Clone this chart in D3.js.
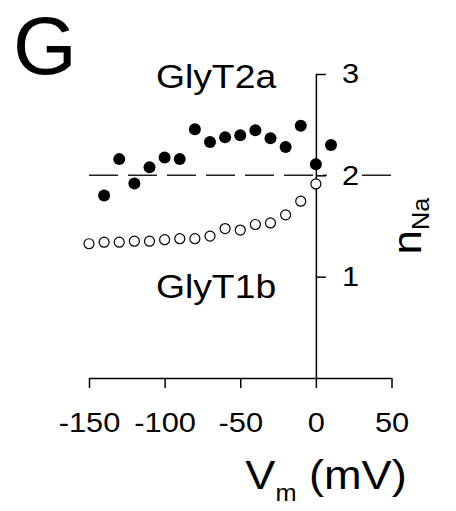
<!DOCTYPE html>
<html lang="en">
<head>
<meta charset="UTF-8">
<script src="https://cdn.jsdelivr.net/npm/d3@7"></script>
<title>nNa vs Vm</title>
<style>
  body { margin: 0; background: white; }
  text { font-family: "Liberation Sans", Arial, sans-serif; fill: black; }
</style>
</head>
<body>
<div id="chart"></div>
<script>
// GlyT2a (filled) and GlyT1b (open)
var glyt2aV = [-140, -130, -120, -110, -100, -90, -80, -70, -60, -50, -40, -30, -20, -10, 0, 10];
var glyt2aN = [1.80, 2.16, 1.92, 2.08, 2.175, 2.16, 2.455, 2.33, 2.375, 2.395, 2.445, 2.365, 2.28, 2.49, 2.11, 2.30];
var glyt1bV = [-150, -140, -130, -120, -110, -100, -90, -80, -70, -60, -50, -40, -30, -20, -10, 0];
var glyt1bN = [1.325, 1.34, 1.34, 1.35, 1.35, 1.365, 1.375, 1.375, 1.40, 1.475, 1.46, 1.515, 1.53, 1.61, 1.745, 1.915];
var xTicks = [-150, -100, -50, 0, 50];
var yTicks = [1, 2, 3];
var refLevel = 2;

var W = 456, H = 511;
var svg = d3.select("#chart").append("svg")
    .attr("width", W)
    .attr("height", H);

var x = d3.scaleLinear().domain([-150, 50]).range([89, 391.5]);
var y = d3.scaleLinear().domain([0, 3]).range([378, 74]);

// plain hyphen minus, as in the figure
var fmt = function(d) { return String(d); };

// stretch text a little wider, like the original lettering
function widen(sel, k) {
    sel.each(function() {
        var w = this.getComputedTextLength();
        d3.select(this).attr("textLength", w * k).attr("lengthAdjust", "spacingAndGlyphs");
    });
}

// dashed reference line at nNa = 2
svg.append("line")
    .attr("x1", x(-150)).attr("x2", x(50))
    .attr("y1", y(refLevel)).attr("y2", y(refLevel))
    .attr("stroke", "#222")
    .attr("stroke-width", 1.5)
    .attr("stroke-dasharray", "29,10");

// x axis
var gx = svg.append("g")
    .attr("transform", "translate(0," + y(0) + ")")
    .call(d3.axisBottom(x).tickValues(xTicks).tickSize(10).tickSizeOuter(0).tickPadding(24).tickFormat(fmt));
gx.attr("font-family", null);
gx.selectAll("path, line").attr("stroke", "black").attr("stroke-width", 1.5);
gx.selectAll("text").attr("font-size", 28).call(widen, 1.1);

// y axis at Vm = 0, labels on the right
var gy = svg.append("g")
    .attr("transform", "translate(" + x(0) + ",0)")
    .call(d3.axisRight(y).tickValues(yTicks).tickSize(10).tickSizeOuter(0).tickPadding(16).tickFormat(fmt));
gy.attr("font-family", null);
gy.selectAll("path, line").attr("stroke", "black").attr("stroke-width", 1.5);
gy.selectAll("text").attr("font-size", 28).call(widen, 1.1);
gy.selectAll(".tick").each(function() {
    var t = d3.select(this).select("text");
    var b = t.node().getBBox();
    d3.select(this).insert("rect", "text")
        .attr("x", 11).attr("y", b.y)
        .attr("width", b.x + b.width + 2 - 11).attr("height", b.height)
        .attr("fill", "white");
});

// GlyT1b open circles
svg.append("g").selectAll("circle")
    .data(glyt1bV)
    .join("circle")
    .attr("cx", function(d) { return x(d); })
    .attr("cy", function(d, i) { return y(glyt1bN[i]); })
    .attr("r", 5)
    .attr("fill", "white")
    .attr("stroke", "black")
    .attr("stroke-width", 1.2);

// GlyT2a filled circles
svg.append("g").selectAll("circle")
    .data(glyt2aV)
    .join("circle")
    .attr("cx", function(d) { return x(d); })
    .attr("cy", function(d, i) { return y(glyt2aN[i]); })
    .attr("r", 6)
    .attr("fill", "black");

// series labels
svg.append("text")
    .attr("x", x(-66)).attr("y", y(2.86))
    .attr("text-anchor", "middle")
    .attr("font-size", 33)
    .text("GlyT2a")
    .call(widen, 1.13);
svg.append("text")
    .attr("x", x(-66)).attr("y", y(0.79))
    .attr("text-anchor", "middle")
    .attr("font-size", 33)
    .text("GlyT1b")
    .call(widen, 1.13);

// panel letter
svg.append("text")
    .attr("x", 13).attr("y", 74)
    .attr("font-size", 82)
    .text("G");

// x title: Vm (mV)
var xt = svg.append("g")
    .attr("transform", "translate(326,489) scale(1.1,1)")
    .append("text")
    .attr("text-anchor", "middle")
    .attr("font-size", 41);
xt.append("tspan").text("V");
xt.append("tspan").attr("font-size", 23).attr("dy", 12).text("m");
xt.append("tspan").attr("dy", -12).text(" (mV)");

// y title: nNa
var yt = svg.append("g")
    .attr("transform", "translate(421,226) rotate(-90) scale(1.1,1)")
    .append("text")
    .attr("text-anchor", "middle")
    .attr("font-size", 40);
yt.append("tspan").text("n");
yt.append("tspan").attr("font-size", 23).attr("dy", 8).text("Na");
</script>
</body>
</html>
